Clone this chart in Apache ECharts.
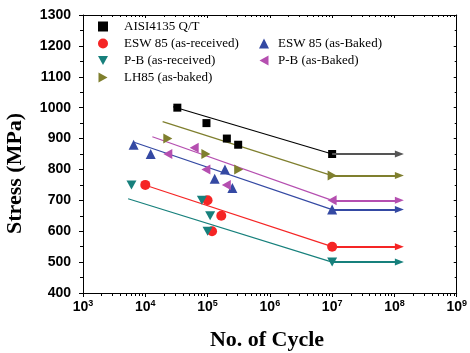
<!DOCTYPE html>
<html>
<head>
<meta charset="utf-8">
<script src="https://cdn.jsdelivr.net/npm/echarts@6/dist/echarts.min.js"></script>
<style>html,body{margin:0;padding:0;background:#fff;}#c{width:470px;height:353px;}</style>
</head>
<body>
<div id="c"></div>
<script>
// ---- data ----
const seriesNames = ['AISI4135 Q/T', 'ESW 85 (as-received)', 'ESW 85 (as-Baked)', 'P-B (as-received)', 'P-B (as-Baked)', 'LH85 (as-baked)'];
const aisiN = [3.27e4, 9.6e4, 2.04e5, 3.1e5, 1e7];
const aisiS = [1000, 950, 900, 880, 850];
const eswRecN = [1e4, 1e5, 1.66e5, 1.18e5, 1e7];
const eswRecS = [750, 700, 650, 600, 550];
const eswBakN = [6.5e3, 1.22e4, 1.3e5, 1.9e5, 2.5e5, 1e7];
const eswBakS = [880, 850, 770, 800, 740, 670];
const pbRecN = [6e3, 8.1e4, 1.1e5, 1e5, 1e7];
const pbRecS = [750, 700, 650, 600, 500];
const pbBakN = [2.3e4, 6.1e4, 9.4e4, 2e5, 1e7];
const pbBakS = [850, 870, 800, 750, 700];
const lhN = [2.3e4, 9.4e4, 3.16e5, 1e7];
const lhS = [900, 850, 800, 780];
// fitted S-N lines: [start N, end N], [start S, end S]
const fitStartN = [2.8e4, 9e3, 6.6e3, 5.3e3, 1.3e4, 1.9e4];
const fitStartS = [1003, 752, 888, 705, 906, 955];
const fitEndN = 1e7;
const fitEndS = [850, 550, 670, 500, 700, 780];
const runoutEndN = 1.2e8;
const yTicks = [400, 500, 600, 700, 800, 900, 1000, 1100, 1200, 1300];

const colors = ['#000000', '#f52525', '#3449a3', '#17807c', '#b54fb0', '#7f7f2e'];
const arrowColors = ['#555555', '#f52525', '#3449a3', '#17807c', '#b54fb0', '#7f7f2e'];
const symbols = [
  'rect',
  'circle',
  'triangle',
  'path://M0,0 L10,0 L5,9 Z',
  'path://M9,0 L9,10 L0,5 Z',
  'path://M0,0 L9,5 L0,10 Z'
];
const symbolSizes = [8, 10, 10, 10, 10, 10];
const pointN = [aisiN, eswRecN, eswBakN, pbRecN, pbBakN, lhN];
const pointS = [aisiS, eswRecS, eswBakS, pbRecS, pbBakS, lhS];

const zip = (a, b) => a.map((v, i) => [v, b[i]]);

const series = [];
seriesNames.forEach((name, i) => {
  series.push({
    name: 'fit' + i,
    type: 'line',
    data: [[fitStartN[i], fitStartS[i]], [fitEndN, fitEndS[i]]],
    showSymbol: false,
    symbol: 'none',
    lineStyle: { color: colors[i], width: 1.2 },
    silent: true,
    z: 2,
    markLine: {
      silent: true,
      symbol: ['none', 'triangle'],
      symbolSize: [7, 9],
      label: { show: false },
      lineStyle: { color: arrowColors[i], width: 2, type: 'solid' },
      data: [[{ coord: [fitEndN, fitEndS[i]] }, { coord: [runoutEndN, fitEndS[i]] }]]
    }
  });
});
seriesNames.forEach((name, i) => {
  series.push({
    name: name,
    type: 'scatter',
    data: zip(pointN[i], pointS[i]),
    symbol: symbols[i],
    symbolSize: symbolSizes[i],
    symbolKeepAspect: true,
    itemStyle: { color: colors[i], opacity: 1 },
    z: 3
  });
});

const option = {
  animation: false,
  backgroundColor: '#fff',
  grid: { left: 83, right: 8, top: 15, bottom: 60 },
  legend: [
    {
      data: [seriesNames[0], seriesNames[1], seriesNames[3], seriesNames[5]],
      orient: 'vertical', left: 93, top: 15, itemGap: 4, itemWidth: 10, itemHeight: 10,
      textStyle: { fontFamily: 'Liberation Serif', fontSize: 13, color: '#000', padding: [0, 0, 0, 11] },
      selectedMode: false
    },
    {
      data: [seriesNames[2], seriesNames[4]],
      orient: 'vertical', left: 254, top: 32, itemGap: 4, itemWidth: 10, itemHeight: 10,
      textStyle: { fontFamily: 'Liberation Serif', fontSize: 13, color: '#000', padding: [0, 0, 0, 4] },
      selectedMode: false
    }
  ],
  xAxis: [
    {
      type: 'log', logBase: 10, min: 1e3, max: 1e9, position: 'bottom',
      axisLine: { show: true, onZero: false, lineStyle: { color: '#000', width: 1 } },
      axisTick: { show: true, length: 4, inside: false, lineStyle: { color: '#000' } },
      minorTick: { show: true, splitNumber: 9, length: 3, lineStyle: { color: '#000' } },
      splitLine: { show: false },
      axisLabel: {
        margin: 6,
        formatter: function (v) {
          const e = Math.round(Math.log10(v));
          return '{b|10}{s|' + e + '}';
        },
        rich: {
          b: { fontFamily: 'Liberation Sans', fontWeight: 'bold', fontSize: 14, color: '#000' },
          s: { fontFamily: 'Liberation Sans', fontWeight: 'bold', fontSize: 9, color: '#000', verticalAlign: 'top', padding: [0, 0, 8, 0] }
        }
      }
    },
    {
      type: 'log', logBase: 10, min: 1e3, max: 1e9, position: 'top',
      axisLine: { show: true, onZero: false, lineStyle: { color: '#000', width: 1 } },
      axisTick: { show: true, length: 3, inside: true, lineStyle: { color: '#000' } },
      minorTick: { show: true, splitNumber: 9, length: 2, lineStyle: { color: '#000' } },
      splitLine: { show: false },
      axisLabel: { show: false }
    }
  ],
  yAxis: [
    {
      type: 'value', min: 400, max: 1300, interval: 100, position: 'left',
      axisLine: { show: true, onZero: false, lineStyle: { color: '#000', width: 1 } },
      axisTick: { show: true, length: 4, inside: false, lineStyle: { color: '#000' } },
      minorTick: { show: true, splitNumber: 2, length: 3, lineStyle: { color: '#000' } },
      splitLine: { show: false },
      axisLabel: {
        margin: 12,
        fontFamily: 'Liberation Sans', fontWeight: 'bold', fontSize: 14, color: '#000',
        formatter: function (v) { return yTicks.indexOf(v) >= 0 ? String(v) : ''; }
      }
    },
    {
      type: 'value', min: 400, max: 1300, interval: 100, position: 'right',
      axisLine: { show: true, onZero: false, lineStyle: { color: '#000', width: 1 } },
      axisTick: { show: true, length: 3, inside: true, lineStyle: { color: '#000' } },
      minorTick: { show: true, splitNumber: 2, length: 2, lineStyle: { color: '#000' } },
      splitLine: { show: false },
      axisLabel: { show: false }
    }
  ],
  graphic: [
    {
      type: 'text', x: 267, y: 329,
      style: { text: 'No. of Cycle', font: 'bold 22px "Liberation Serif"', fill: '#000', align: 'center', verticalAlign: 'top' }
    },
    {
      type: 'text', rotation: Math.PI / 2, x: 4, y: 234,
      style: { text: 'Stress (MPa)', font: 'bold 22px "Liberation Serif"', fill: '#000', align: 'left', verticalAlign: 'top' }
    }
  ],
  series: series
};
const chart = echarts.init(document.getElementById('c'), null, { renderer: 'canvas' });
chart.setOption(option);
</script>
</body>
</html>
